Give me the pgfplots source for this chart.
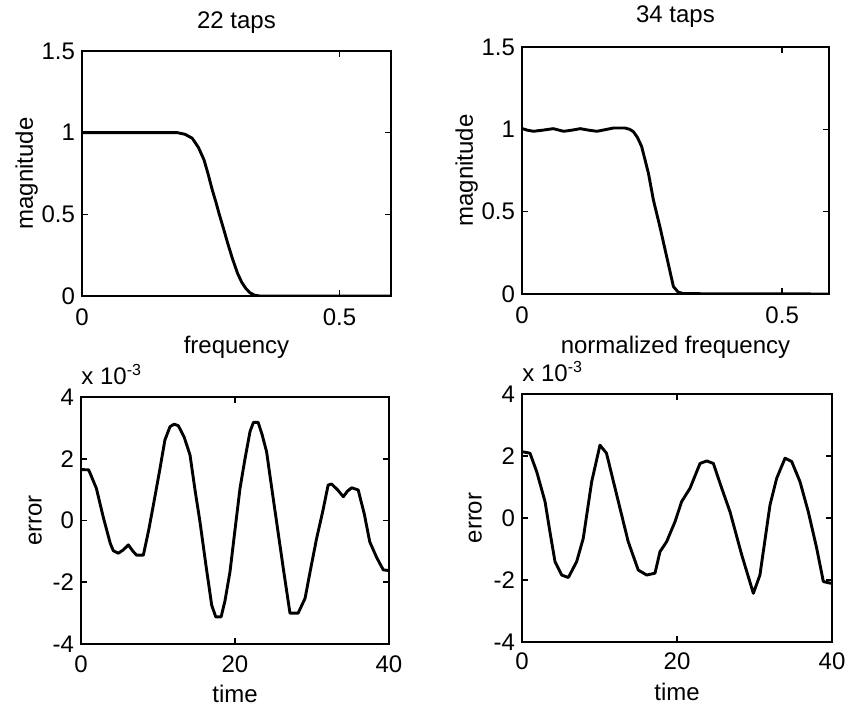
\documentclass[border=0pt]{standalone}
\usepackage{fontspec}
\setmainfont{Liberation Sans}
\usepackage{pgfplots}
\pgfplotsset{compat=1.18}
\newcommand{\ff}{\fontsize{12}{14}\selectfont}
\pgfplotsset{
  mat/.style={
    scale only axis,
    axis line style={line width=1.3pt},
    tick style={line width=0.8pt, black},
    tick align=inside,
    major tick length=3pt,
    /pgf/number format/assume math mode=true,
    tick label style={font=\ff},
    label style={font=\ff},
    title style={font=\ff},
    xticklabel style={yshift=-3pt},
  },
  crv/.style={black, line width=1.45pt, no marks, line join=round},
}
\begin{document}
\begin{tikzpicture}
\useasboundingbox (0,0) rectangle (422.5pt,355.5pt);
% top left
\begin{axis}[mat, at={(41pt,207.5pt)}, anchor=south west,
  width=154.5pt, height=122.5pt,
  xmin=0, xmax=0.6, ymin=0, ymax=1.5,
  xtick={0,0.5}, ytick={0,0.5,1,1.5},
  title={22 taps}, title style={at={(0.5,1.042)}, anchor=base},
  xlabel={frequency}, xlabel style={at={(axis description cs:0.5,-0.233)}, anchor=base},
  ylabel={magnitude}, ylabel style={at={(axis description cs:-0.159,0.5)}, anchor=base}]
\addplot[crv] coordinates {(0,1) (0.1,1) (0.185,1) (0.2,0.99) (0.214,0.966) (0.226,0.91) (0.237,0.833) (0.245,0.745) (0.253,0.649) (0.26,0.575) (0.266,0.506) (0.275,0.41) (0.283,0.322) (0.292,0.23) (0.302,0.139) (0.31,0.085) (0.318,0.047) (0.326,0.02) (0.335,0.005) (0.345,0) (0.6,0)};
\end{axis}
% top right
\begin{axis}[mat, at={(261pt,208.5pt)}, anchor=south west,
  width=153.5pt, height=123.5pt,
  xmin=0, xmax=0.59, ymin=0, ymax=1.5,
  xtick={0,0.5}, ytick={0,0.5,1,1.5},
  title={34 taps}, title style={at={(0.5,1.049)}, anchor=base},
  xlabel={normalized frequency}, xlabel style={at={(axis description cs:0.5,-0.239)}, anchor=base},
  ylabel={magnitude}, ylabel style={at={(axis description cs:-0.16,0.5)}, anchor=base}]
\addplot[crv] coordinates {(0,1.005) (0.01,0.995) (0.022,0.988) (0.04,0.995) (0.06,1.004) (0.08,0.988) (0.096,0.995) (0.112,1.004) (0.128,0.995) (0.144,0.988) (0.16,0.998) (0.176,1.008) (0.198,1.008) (0.207,1.0) (0.214,0.986) (0.222,0.95) (0.230,0.895) (0.243,0.733) (0.2525,0.571) (0.265,0.409) (0.278,0.227) (0.291,0.045) (0.30,0.012) (0.310,0.002) (0.59,0)};
\end{axis}
% bottom left
\begin{axis}[mat, at={(40.5pt,33.5pt)}, anchor=south west,
  width=154pt, height=123.5pt,
  xmin=0, xmax=40, ymin=-4, ymax=4,
  xtick={0,20,40}, ytick={-4,-2,0,2,4},
  xticklabel style={yshift=0.5pt},
  xlabel={time}, xlabel style={at={(axis description cs:0.5,-0.235)}, anchor=base},
  ylabel={error}, ylabel style={at={(axis description cs:-0.128,0.5)}, anchor=base},
  extra description/.code={\node[anchor=base west, font=\ff, inner sep=0pt] at (0,1.05) {x 10\textsuperscript{-3}};}]
\addplot[crv] coordinates {(0,1.65) (1.0,1.64) (2.0,1.04) (2.9,0.1) (3.8,-0.74) (4.2,-0.98) (4.85,-1.06) (5.5,-0.95) (6.15,-0.79) (6.7,-0.98) (7.2,-1.12) (8.1,-1.12) (8.8,-0.3) (9.4,0.50) (10.2,1.6) (10.9,2.61) (11.56,3.04) (12.1,3.12) (12.64,3.07) (13.4,2.7) (14.16,2.12) (14.8,1.0) (15.45,-0.04) (16.2,-1.4) (16.97,-2.74) (17.5,-3.12) (18.2,-3.12) (18.7,-2.6) (19.35,-1.66) (20.0,-0.3) (20.65,1.04) (21.3,2.0) (21.95,2.88) (22.4,3.18) (23.0,3.18) (23.5,2.8) (24.1,2.23) (24.8,1.0) (25.4,-0.04) (26.3,-1.6) (27.14,-3.0) (28.2,-3.0) (29.1,-2.52) (29.8,-1.6) (30.6,-0.58) (31.4,0.3) (32.1,1.15) (32.55,1.18) (33.3,1.0) (34.07,0.77) (34.6,0.95) (35.15,1.06) (36.0,0.99) (36.8,0.2) (37.5,-0.69) (38.4,-1.2) (39.26,-1.6) (40,-1.62)};
\end{axis}
% bottom right
\begin{axis}[mat, at={(261pt,34.5pt)}, anchor=south west,
  width=155pt, height=124pt,
  xmin=0, xmax=40, ymin=-4, ymax=4,
  xtick={0,20,40}, ytick={-4,-2,0,2,4},
  xticklabel style={yshift=1pt},
  xlabel={time}, xlabel style={at={(axis description cs:0.5,-0.234)}, anchor=base},
  ylabel={error}, ylabel style={at={(axis description cs:-0.130,0.5)}, anchor=base},
  extra description/.code={\node[anchor=base west, font=\ff, inner sep=0pt] at (0,1.052) {x 10\textsuperscript{-3}};}]
\addplot[crv] coordinates {(0,2.14) (1.03,2.09) (1.9,1.49) (2.97,0.53) (3.6,-0.44) (4.26,-1.41) (5.12,-1.84) (5.98,-1.92) (7.05,-1.41) (7.9,-0.66) (8.99,1.17) (10.06,2.35) (10.9,2.09) (12.43,0.53) (13.7,-0.76) (15.0,-1.68) (16.09,-1.84) (17.16,-1.78) (17.8,-1.09) (18.67,-0.76) (19.74,-0.12) (20.6,0.53) (21.68,0.96) (22.97,1.76) (23.83,1.84) (24.69,1.76) (25.77,0.96) (26.84,0.2) (28.35,-1.19) (29.85,-2.43) (30.7,-1.84) (32.0,0.42) (32.86,1.28) (33.94,1.93) (34.8,1.82) (35.87,1.17) (36.94,0.2) (38.03,-0.98) (38.88,-2.05) (39.74,-2.1) (40,-2.1)};
\end{axis}
\end{tikzpicture}
\end{document}
